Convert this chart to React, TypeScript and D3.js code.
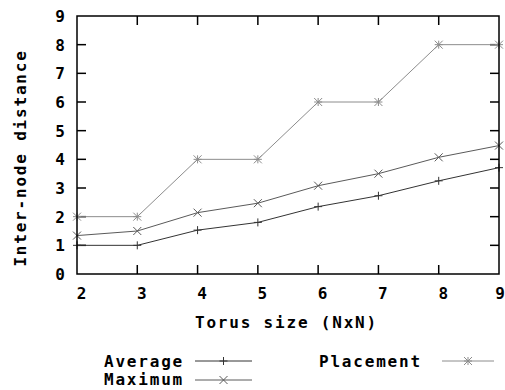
import React from "react";
import * as d3 from "d3";

const sizes = [2, 3, 4, 5, 6, 7, 8, 9];
const average = [1, 1, 1.53, 1.8, 2.35, 2.73, 3.25, 3.71];
const maximum = [1.34, 1.5, 2.14, 2.47, 3.08, 3.5, 4.07, 4.48];
const placement = [2, 2, 4, 4, 6, 6, 8, 8];
const xTicks = [2, 3, 4, 5, 6, 7, 8, 9];
const yTicks = [0, 1, 2, 3, 4, 5, 6, 7, 8, 9];

const seriesNames = ["Average", "Maximum", "Placement"];
const seriesColors = ["#333333", "#5a5a5a", "#8c8c8c"];

const FONT = "'DejaVu Sans Mono', monospace";

function Marker({ kind, x, y, color }: { kind: string; x: number; y: number; color: string }) {
  const s = 4;
  const plus = `M${x - s},${y}H${x + s}M${x},${y - s}V${y + s}`;
  const cross = `M${x - s},${y - s}L${x + s},${y + s}M${x - s},${y + s}L${x + s},${y - s}`;
  const d = kind === "Average" ? plus : kind === "Maximum" ? cross : plus + cross;
  return <path d={d} stroke={color} strokeWidth={1} fill="none" />;
}

export default function App() {
  const W = 505, H = 390;
  const left = 77, right = 499, top = 16, bottom = 274;
  const x = d3.scaleLinear().domain([2, 9]).range([left, right]);
  const y = d3.scaleLinear().domain([0, 9]).range([bottom, top]);
  const data = [average, maximum, placement];
  const line = d3
    .line<number>()
    .x((_, i) => x(sizes[i]))
    .y((v) => y(v));
  const textStyle: React.CSSProperties = { fontFamily: FONT, fontSize: 16, fontWeight: "bold", fill: "#000" };
  const ls = 1.8;

  const legend = [
    { name: "Average", tx: 104, ty: 367, lx1: 195, lx2: 252, ly: 361 },
    { name: "Maximum", tx: 104, ty: 385, lx1: 195, lx2: 252, ly: 380 },
    { name: "Placement", tx: 319, ty: 367, lx1: 442, lx2: 494, ly: 361 },
  ];

  return (
    <svg
      width={W}
      height={H}
      style={{ position: "absolute", left: 0, top: 0, background: "#fff" }}
    >
      {yTicks.slice(1, -1).map((t) => (
        <g key={"yt" + t}>
          <line x1={left} x2={left + 9} y1={y(t)} y2={y(t)} stroke="#000" strokeWidth={1.5} />
          <line x1={right} x2={right - 9} y1={y(t)} y2={y(t)} stroke="#000" strokeWidth={1.5} />
        </g>
      ))}
      {xTicks.slice(1, -1).map((t) => (
        <g key={"xt" + t}>
          <line x1={x(t)} x2={x(t)} y1={bottom} y2={bottom - 9} stroke="#000" strokeWidth={1.5} />
          <line x1={x(t)} x2={x(t)} y1={top} y2={top + 9} stroke="#000" strokeWidth={1.5} />
        </g>
      ))}
      {data.map((vals, si) => (
        <g key={"s" + si}>
          <path d={line(vals) || ""} fill="none" stroke={seriesColors[si]} strokeWidth={1} />
          {vals.map((v, i) => (
            <Marker key={i} kind={seriesNames[si]} x={x(sizes[i])} y={y(v)} color={seriesColors[si]} />
          ))}
        </g>
      ))}
      <rect x={left} y={top} width={right - left} height={bottom - top} fill="none" stroke="#000" strokeWidth={1.5} />
      {yTicks.map((t) => (
        <text key={"yl" + t} x={65} y={y(t) + 6} textAnchor="end" style={textStyle}>
          {t}
        </text>
      ))}
      {xTicks.map((t) => (
        <text key={"xl" + t} x={Math.min(x(t) + 4.5, 500)} y={299} textAnchor="middle" style={textStyle}>
          {t}
        </text>
      ))}
      <text x={195} y={328} style={{ ...textStyle, letterSpacing: ls }}>
        Torus size (NxN)
      </text>
      <text
        transform={`translate(26,158) rotate(-90)`}
        textAnchor="middle"
        style={{ ...textStyle, letterSpacing: ls }}
      >
        Inter-node distance
      </text>
      {legend.map((l, i) => (
        <g key={"lg" + i}>
          <text x={l.tx} y={l.ty} style={{ ...textStyle, letterSpacing: ls }}>
            {l.name}
          </text>
          <line x1={l.lx1} x2={l.lx2} y1={l.ly} y2={l.ly} stroke={seriesColors[i]} strokeWidth={1} />
          <Marker kind={l.name} x={(l.lx1 + l.lx2) / 2} y={l.ly} color={seriesColors[i]} />
        </g>
      ))}
    </svg>
  );
}
